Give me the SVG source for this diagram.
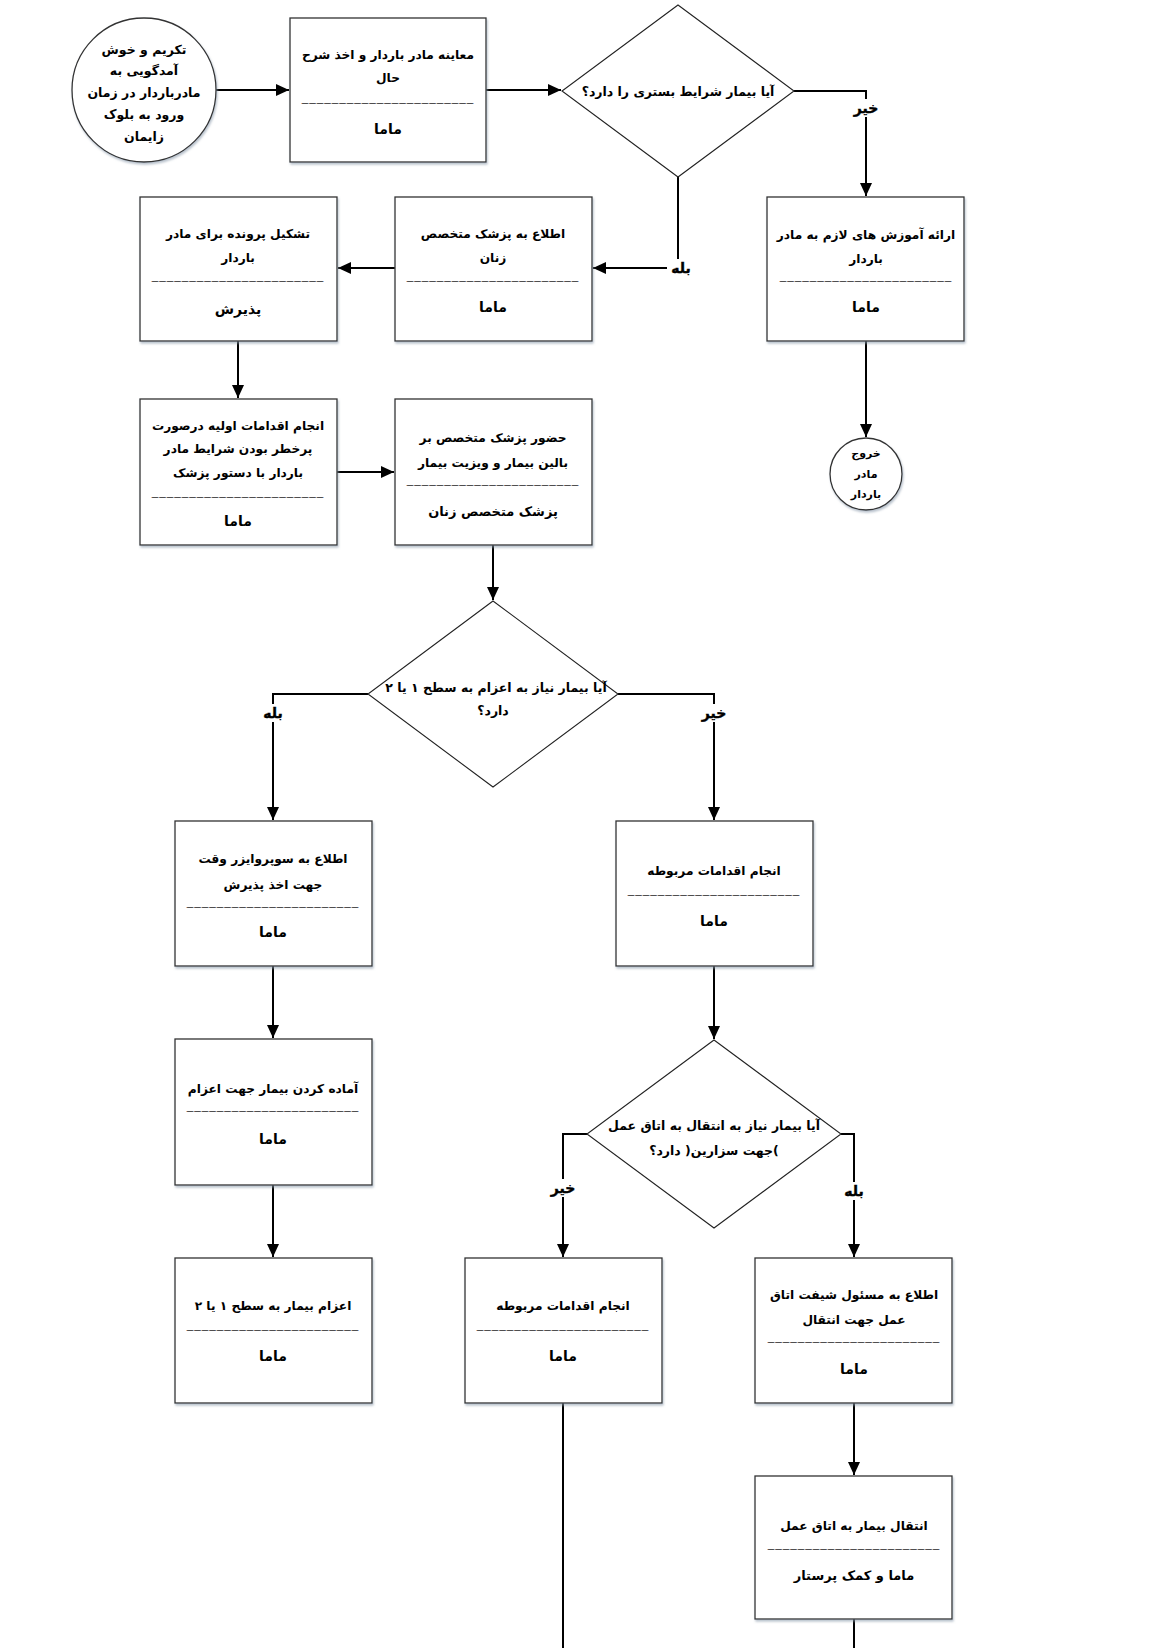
<svg xmlns="http://www.w3.org/2000/svg" width="1175" height="1648" viewBox="0 0 1175 1648">
<defs>
<style>
.bx{fill:#fff;stroke:#333;stroke-width:1.3;filter:url(#sh)}
.dm{fill:#fff;stroke:#222;stroke-width:1.1}
.cn{fill:none;stroke:#000;stroke-width:2}
.t{font-family:'DejaVu Sans',sans-serif;font-size:12.2px;font-weight:bold;text-anchor:middle;dominant-baseline:central;fill:#000;direction:rtl}
.d{font-family:'DejaVu Sans',sans-serif;font-size:12.5px;font-weight:bold;text-anchor:middle;dominant-baseline:central;fill:#000;direction:rtl}
.r{font-family:'DejaVu Sans',sans-serif;font-size:14px;font-weight:bold;text-anchor:middle;dominant-baseline:central;fill:#000;direction:rtl}
.r2{font-family:'DejaVu Sans',sans-serif;font-size:13px;font-weight:bold;text-anchor:middle;dominant-baseline:central;fill:#000;direction:rtl}
.c{font-family:'DejaVu Sans',sans-serif;font-size:12.5px;font-weight:bold;text-anchor:middle;dominant-baseline:central;fill:#000;direction:rtl}
.e{font-family:'DejaVu Sans',sans-serif;font-size:11px;font-weight:bold;text-anchor:middle;dominant-baseline:central;fill:#000;direction:rtl}
.l{font-family:'DejaVu Sans',sans-serif;font-size:14px;font-weight:bold;text-anchor:middle;dominant-baseline:central;fill:#000;direction:rtl;stroke:#000;stroke-width:0.4}
.s{font-family:'Liberation Serif',serif;font-size:13px;letter-spacing:1px;text-anchor:middle;fill:#000}
.lb{fill:#fff}
</style>
<filter id="sh" x="-10%" y="-10%" width="125%" height="125%">
<feDropShadow dx="1" dy="2" stdDeviation="1.2" flood-color="#8a9aaa" flood-opacity="0.6"/>
</filter>
<marker id="ah" markerUnits="userSpaceOnUse" markerWidth="14" markerHeight="12" refX="13" refY="6" orient="auto">
<path d="M0,0 L13,6 L0,12 z" fill="#000"/>
</marker>
</defs>
<rect width="1175" height="1648" fill="#fff"/>

<g id="connectors">
<path class="cn" d="M216,90 H289" marker-end="url(#ah)"/>
<path class="cn" d="M486,90 H561" marker-end="url(#ah)"/>
<path class="cn" d="M794,91 H866 V196" marker-end="url(#ah)"/>
<path class="cn" d="M678,177 V268 H593" marker-end="url(#ah)"/>
<path class="cn" d="M395,268 H338" marker-end="url(#ah)"/>
<path class="cn" d="M238,341 V398" marker-end="url(#ah)"/>
<path class="cn" d="M337,472 H394" marker-end="url(#ah)"/>
<path class="cn" d="M493,545 V600" marker-end="url(#ah)"/>
<path class="cn" d="M368,694 H273 V820" marker-end="url(#ah)"/>
<path class="cn" d="M618,694 H714 V820" marker-end="url(#ah)"/>
<path class="cn" d="M273,966 V1038" marker-end="url(#ah)"/>
<path class="cn" d="M714,966 V1039" marker-end="url(#ah)"/>
<path class="cn" d="M273,1185 V1257" marker-end="url(#ah)"/>
<path class="cn" d="M588,1134 H563 V1257" marker-end="url(#ah)"/>
<path class="cn" d="M841,1134 H854 V1257" marker-end="url(#ah)"/>
<path class="cn" d="M854,1403 V1475" marker-end="url(#ah)"/>
<path class="cn" d="M563,1403 V1648"/>
<path class="cn" d="M854,1619 V1648"/>
<path class="cn" d="M866,341 V437" marker-end="url(#ah)"/>
<rect class="lb" x="852" y="99" width="28" height="18"/>
<text class="l" x="866" y="108">خیر</text>
<rect class="lb" x="667" y="259" width="28" height="18"/>
<text class="l" x="681" y="268">بله</text>
<rect class="lb" x="259" y="704" width="28" height="18"/>
<text class="l" x="273" y="713">بله</text>
<rect class="lb" x="700" y="704" width="28" height="18"/>
<text class="l" x="714" y="713">خیر</text>
<rect class="lb" x="549" y="1179" width="28" height="18"/>
<text class="l" x="563" y="1188">خیر</text>
<rect class="lb" x="840" y="1182" width="28" height="18"/>
<text class="l" x="854" y="1191">بله</text>
</g>

<g id="start">
<circle class="bx" cx="144" cy="90" r="72"/>
<text class="c" x="144" y="49">تکریم و خوش</text>
<text class="c" x="144" y="70">آمدگویی به</text>
<text class="c" x="144" y="92">مادرباردار در زمان</text>
<text class="c" x="144" y="114">ورود به بلوک</text>
<text class="c" x="144" y="136">زایمان</text>
</g>

<g id="exam">
<rect class="bx" x="290" y="18" width="196" height="144"/>
<text class="t" x="388" y="55">معاینه مادر باردار و اخذ شرح</text>
<text class="t" x="388" y="78">حال</text>
<text class="s" x="388" y="102">_______________________</text>
<text class="r" x="388" y="129">ماما</text>
</g>

<g id="d1">
<polygon class="dm" points="678,5 794,91 678,177 562,91"/>
<text class="d" x="678" y="91">آیا بیمار شرایط بستری را دارد؟</text>
</g>

<g id="edu">
<rect class="bx" x="767" y="197" width="197" height="144"/>
<text class="t" x="866" y="235">ارائه آموزش های لازم به مادر</text>
<text class="t" x="866" y="259">باردار</text>
<text class="s" x="866" y="280">_______________________</text>
<text class="r" x="866" y="307">ماما</text>
</g>

<g id="exit">
<circle class="bx" cx="866" cy="474" r="36"/>
<text class="e" x="866" y="453">خروج</text>
<text class="e" x="866" y="474">مادر</text>
<text class="e" x="866" y="494">باردار</text>
</g>

<g id="notify">
<rect class="bx" x="395" y="197" width="197" height="144"/>
<text class="t" x="493" y="234">اطلاع به پزشک متخصص</text>
<text class="t" x="493" y="258">زنان</text>
<text class="s" x="493" y="280">_______________________</text>
<text class="r" x="493" y="307">ماما</text>
</g>

<g id="file">
<rect class="bx" x="140" y="197" width="197" height="144"/>
<text class="t" x="238" y="234">تشکیل پرونده برای مادر</text>
<text class="t" x="238" y="258">باردار</text>
<text class="s" x="238" y="280">_______________________</text>
<text class="r" x="238" y="309">پذیرش</text>
</g>

<g id="init">
<rect class="bx" x="140" y="399" width="197" height="146"/>
<text class="t" x="238" y="426">انجام اقدامات اولیه درصورت</text>
<text class="t" x="238" y="449">پرخطر بودن شرایط مادر</text>
<text class="t" x="238" y="473">باردار با دستور پزشک</text>
<text class="s" x="238" y="496">_______________________</text>
<text class="r" x="238" y="521">ماما</text>
</g>

<g id="visit">
<rect class="bx" x="395" y="399" width="197" height="146"/>
<text class="t" x="493" y="438">حضور پزشک متخصص بر</text>
<text class="t" x="493" y="463">بالین بیمار و ویزیت بیمار</text>
<text class="s" x="493" y="484">_______________________</text>
<text class="r2" x="493" y="511">پزشک متخصص زنان</text>
</g>

<g id="d2">
<polygon class="dm" points="493,601 618,694 493,787 368,694"/>
<text class="d" x="496" y="687">آیا بیمار نیاز به اعزام به سطح ۱ یا ۲</text>
<text class="d" x="493" y="710">دارد؟</text>
</g>

<g id="supervisor">
<rect class="bx" x="175" y="821" width="197" height="145"/>
<text class="t" x="273" y="859">اطلاع به سوپروایزر وقت</text>
<text class="t" x="273" y="885">جهت اخذ پذیرش</text>
<text class="s" x="273" y="906">_______________________</text>
<text class="r" x="273" y="932">ماما</text>
</g>

<g id="act1">
<rect class="bx" x="616" y="821" width="197" height="145"/>
<text class="t" x="714" y="871">انجام اقدامات مربوطه</text>
<text class="s" x="714" y="894">_______________________</text>
<text class="r" x="714" y="921">ماما</text>
</g>

<g id="prep">
<rect class="bx" x="175" y="1039" width="197" height="146"/>
<text class="t" x="273" y="1089">آماده کردن بیمار جهت اعزام</text>
<text class="s" x="273" y="1110">_______________________</text>
<text class="r" x="273" y="1139">ماما</text>
</g>

<g id="d3">
<polygon class="dm" points="714,1040 841,1134 714,1228 587,1134"/>
<text class="d" x="714" y="1125">آیا بیمار نیاز به انتقال به اتاق عمل</text>
<text class="d" x="714" y="1150">)جهت سزارین( دارد؟</text>
</g>

<g id="send">
<rect class="bx" x="175" y="1258" width="197" height="145"/>
<text class="t" x="273" y="1306">اعزام بیمار به سطح ۱ یا ۲</text>
<text class="s" x="273" y="1329">_______________________</text>
<text class="r" x="273" y="1356">ماما</text>
</g>

<g id="act2">
<rect class="bx" x="465" y="1258" width="197" height="145"/>
<text class="t" x="563" y="1306">انجام اقدامات مربوطه</text>
<text class="s" x="563" y="1329">_______________________</text>
<text class="r" x="563" y="1356">ماما</text>
</g>

<g id="or-notify">
<rect class="bx" x="755" y="1258" width="197" height="145"/>
<text class="t" x="854" y="1295">اطلاع به مسئول شیفت اتاق</text>
<text class="t" x="854" y="1320">عمل جهت انتقال</text>
<text class="s" x="854" y="1341">_______________________</text>
<text class="r" x="854" y="1369">ماما</text>
</g>

<g id="transfer">
<rect class="bx" x="755" y="1476" width="197" height="143"/>
<text class="t" x="854" y="1526">انتقال بیمار به اتاق عمل</text>
<text class="s" x="854" y="1548">_______________________</text>
<text class="r2" x="854" y="1575">ماما و کمک پرستار</text>
</g>
</svg>
